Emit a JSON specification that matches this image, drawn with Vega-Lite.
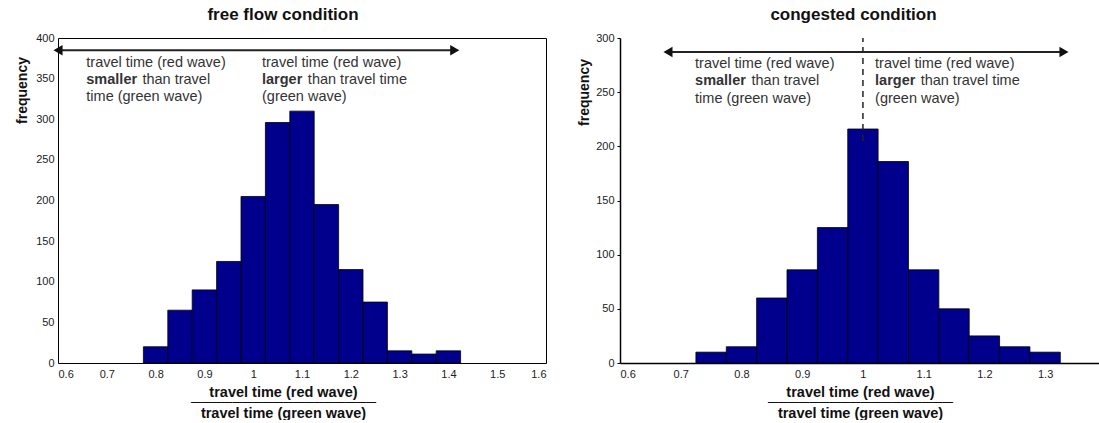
{
  "$schema": "https://vega.github.io/schema/vega-lite/v6.json",
  "padding": {"left": 15, "top": 5, "right": 0, "bottom": 0},
  "spacing": 30,
  "config": {
    "font": "Liberation Sans",
    "view": {"stroke": null},
    "title": {"fontSize": 17, "fontWeight": "bold", "color": "#111", "offset": 8},
    "axis": {
      "labelFont": "Liberation Sans", "labelFontSize": 11, "labelColor": "#222",
      "domainColor": "#000", "tickColor": "#000", "grid": false,
      "titleFont": "Liberation Sans", "titleFontWeight": "bold", "titleColor": "#111"
    }
  },
  "hconcat": [
    {
      "width": 488, "height": 325,
      "title": {"text": "free flow condition", "dx": -19},
      "view": {"stroke": "#000", "strokeWidth": 1},
      "resolve": {"axis": {"x": "independent", "y": "independent"}},
      "layer": [
        {
          "data": {"values": [
            {"lo": 0.775, "hi": 0.825, "count": 20},
            {"lo": 0.825, "hi": 0.875, "count": 65},
            {"lo": 0.875, "hi": 0.925, "count": 90},
            {"lo": 0.925, "hi": 0.975, "count": 125},
            {"lo": 0.975, "hi": 1.025, "count": 205},
            {"lo": 1.025, "hi": 1.075, "count": 296},
            {"lo": 1.075, "hi": 1.125, "count": 310},
            {"lo": 1.125, "hi": 1.175, "count": 195},
            {"lo": 1.175, "hi": 1.225, "count": 115},
            {"lo": 1.225, "hi": 1.275, "count": 75},
            {"lo": 1.275, "hi": 1.325, "count": 15},
            {"lo": 1.325, "hi": 1.375, "count": 11},
            {"lo": 1.375, "hi": 1.425, "count": 15}
          ]},
          "mark": {"type": "bar", "color": "#00008c", "stroke": "#000", "strokeWidth": 0.8},
          "encoding": {
            "x": {"field": "lo", "type": "quantitative",
                  "scale": {"domain": [0.6, 1.6], "nice": false, "zero": false},
                  "axis": {"orient": "bottom", "values": [0.6,0.7,0.8,0.9,1,1.1,1.2,1.3,1.4,1.5,1.6], "format": "~g",
                           "ticks": false, "labelPadding": 5, "domain": false,
                           "title": ["travel time (red wave)", "──────────────────", "travel time (green wave)"],
                           "titleFontSize": 14.5, "titleLineHeight": 10.5, "titlePadding": 6, "titleX": 225}},
            "x2": {"field": "hi"},
            "y": {"field": "count", "type": "quantitative",
                  "scale": {"domain": [0, 400], "nice": false},
                  "axis": {"orient": "left", "values": [0,50,100,150,200,250,300,350,400], "ticks": false, "labelPadding": 4, "domain": false,
                           "title": "frequency", "titleFontSize": 14, "titleY": 52, "titlePadding": 6}},
            "y2": {"datum": 0}
          }
        },
        {
          "data": {"values": [{"x1": 0.6, "x2": 1.413, "y": 385}]},
          "layer": [
            {
              "mark": {"type": "rule", "color": "#222", "strokeWidth": 2},
              "encoding": {
                "x": {"field": "x1", "type": "quantitative",
                      "axis": {"orient": "top", "values": [0.6,0.7,0.8,0.9,1,1.1,1.2,1.3,1.4,1.5,1.6], "labels": false, "title": null, "tickSize": 4, "offset": -4, "domain": false}},
                "x2": {"field": "x2"},
                "y": {"field": "y", "type": "quantitative",
                      "axis": {"orient": "right", "values": [0,50,100,150,200,250,300,350,400], "labels": false, "title": null, "tickSize": 4, "offset": -4, "domain": false}}
              }
            },
            {
              "mark": {"type": "point", "shape": "triangle-left", "filled": true, "color": "#111", "size": 110, "opacity": 1, "dx": 5},
              "encoding": {
                "x": {"field": "x1", "type": "quantitative", "axis": null},
                "y": {"field": "y", "type": "quantitative", "axis": null}
              }
            },
            {
              "mark": {"type": "point", "shape": "triangle-right", "filled": true, "color": "#111", "size": 110, "opacity": 1, "dx": -5},
              "encoding": {
                "x": {"field": "x2", "type": "quantitative", "axis": null},
                "y": {"field": "y", "type": "quantitative", "axis": null}
              }
            }
          ]
        },
        {
          "data": {"values": [
            {"x": 0.658, "y": 369, "t": "travel time (red wave)"},
            {"x": 0.773, "y": 348.5, "t": "than travel"},
            {"x": 0.658, "y": 327, "t": "time (green wave)"},
            {"x": 1.018, "y": 369, "t": "travel time (red wave)"},
            {"x": 1.112, "y": 348.5, "t": "than travel time"},
            {"x": 1.018, "y": 327, "t": "(green wave)"}
          ]},
          "mark": {"type": "text", "align": "left", "baseline": "middle", "fontSize": 14.5, "color": "#333"},
          "encoding": {
            "x": {"field": "x", "type": "quantitative", "axis": null},
            "y": {"field": "y", "type": "quantitative", "axis": null},
            "text": {"field": "t"}
          }
        },
        {
          "data": {"values": [
            {"x": 0.658, "y": 348.5, "t": "smaller"},
            {"x": 1.018, "y": 348.5, "t": "larger"}
          ]},
          "mark": {"type": "text", "align": "left", "baseline": "middle", "fontSize": 14.5, "fontWeight": "bold", "color": "#333"},
          "encoding": {
            "x": {"field": "x", "type": "quantitative", "axis": null},
            "y": {"field": "y", "type": "quantitative", "axis": null},
            "text": {"field": "t"}
          }
        }
      ]
    },
    {
      "width": 481, "height": 325,
      "title": {"text": "congested condition", "dx": -7},
      "resolve": {"axis": {"x": "independent", "y": "independent"}},
      "layer": [
        {
          "data": {"values": [
            {"lo": 0.725, "hi": 0.775, "count": 10},
            {"lo": 0.775, "hi": 0.825, "count": 15},
            {"lo": 0.825, "hi": 0.875, "count": 60},
            {"lo": 0.875, "hi": 0.925, "count": 86},
            {"lo": 0.925, "hi": 0.975, "count": 125},
            {"lo": 0.975, "hi": 1.025, "count": 216},
            {"lo": 1.025, "hi": 1.075, "count": 186},
            {"lo": 1.075, "hi": 1.125, "count": 86},
            {"lo": 1.125, "hi": 1.175, "count": 50},
            {"lo": 1.175, "hi": 1.225, "count": 25},
            {"lo": 1.225, "hi": 1.275, "count": 15},
            {"lo": 1.275, "hi": 1.325, "count": 10}
          ]},
          "mark": {"type": "bar", "color": "#00008c", "stroke": "#000", "strokeWidth": 0.8},
          "encoding": {
            "x": {"field": "lo", "type": "quantitative",
                  "scale": {"domain": [0.6, 1.392], "nice": false, "zero": false},
                  "axis": {"orient": "bottom", "values": [0.6,0.7,0.8,0.9,1,1.1,1.2,1.3], "format": "~g",
                           "ticks": false, "labelPadding": 5, "domainWidth": 1.5,
                           "title": ["travel time (red wave)", "──────────────────", "travel time (green wave)"],
                           "titleFontSize": 14.5, "titleLineHeight": 10.5, "titlePadding": 6, "titleX": 240}},
            "x2": {"field": "hi"},
            "y": {"field": "count", "type": "quantitative",
                  "scale": {"domain": [0, 300], "nice": false},
                  "axis": {"orient": "left", "values": [0,50,100,150,200,250,300], "tickSize": 3, "labelPadding": 3, "domainWidth": 1.5,
                           "title": "frequency", "titleFontSize": 14, "titleY": 54, "titlePadding": 4}},
            "y2": {"datum": 0}
          }
        },
        {
          "data": {"values": [{"x1": 0.679, "x2": 1.331, "y": 287}]},
          "layer": [
            {
              "mark": {"type": "rule", "color": "#222", "strokeWidth": 2},
              "encoding": {
                "x": {"field": "x1", "type": "quantitative",
                      "axis": {"orient": "top", "values": [0.7,0.8,0.9,1.1,1.2,1.3], "labels": false, "title": null, "tickSize": 4, "offset": -4, "domain": false}},
                "x2": {"field": "x2"},
                "y": {"field": "y", "type": "quantitative", "axis": null}
              }
            },
            {
              "mark": {"type": "point", "shape": "triangle-left", "filled": true, "color": "#111", "size": 110, "opacity": 1, "dx": 5},
              "encoding": {
                "x": {"field": "x1", "type": "quantitative", "axis": null},
                "y": {"field": "y", "type": "quantitative", "axis": null}
              }
            },
            {
              "mark": {"type": "point", "shape": "triangle-right", "filled": true, "color": "#111", "size": 110, "opacity": 1, "dx": -5},
              "encoding": {
                "x": {"field": "x2", "type": "quantitative", "axis": null},
                "y": {"field": "y", "type": "quantitative", "axis": null}
              }
            }
          ]
        },
        {
          "data": {"values": [{"x": 1.0, "y1": 205, "y2": 300}]},
          "mark": {"type": "rule", "color": "#222", "strokeWidth": 1.5, "strokeDash": [6, 5]},
          "encoding": {
            "x": {"field": "x", "type": "quantitative", "axis": null},
            "y": {"field": "y1", "type": "quantitative", "axis": null},
            "y2": {"field": "y2"}
          }
        },
        {
          "data": {"values": [
            {"x": 0.7236, "y": 276, "t": "travel time (red wave)"},
            {"x": 0.8165, "y": 260.5, "t": "than travel"},
            {"x": 0.7236, "y": 244, "t": "time (green wave)"},
            {"x": 1.02, "y": 276, "t": "travel time (red wave)"},
            {"x": 1.095, "y": 260.5, "t": "than travel time"},
            {"x": 1.02, "y": 244, "t": "(green wave)"}
          ]},
          "mark": {"type": "text", "align": "left", "baseline": "middle", "fontSize": 14.5, "color": "#333"},
          "encoding": {
            "x": {"field": "x", "type": "quantitative", "axis": null},
            "y": {"field": "y", "type": "quantitative", "axis": null},
            "text": {"field": "t"}
          }
        },
        {
          "data": {"values": [
            {"x": 0.7236, "y": 260.5, "t": "smaller"},
            {"x": 1.02, "y": 260.5, "t": "larger"}
          ]},
          "mark": {"type": "text", "align": "left", "baseline": "middle", "fontSize": 14.5, "fontWeight": "bold", "color": "#333"},
          "encoding": {
            "x": {"field": "x", "type": "quantitative", "axis": null},
            "y": {"field": "y", "type": "quantitative", "axis": null},
            "text": {"field": "t"}
          }
        }
      ]
    }
  ]
}
